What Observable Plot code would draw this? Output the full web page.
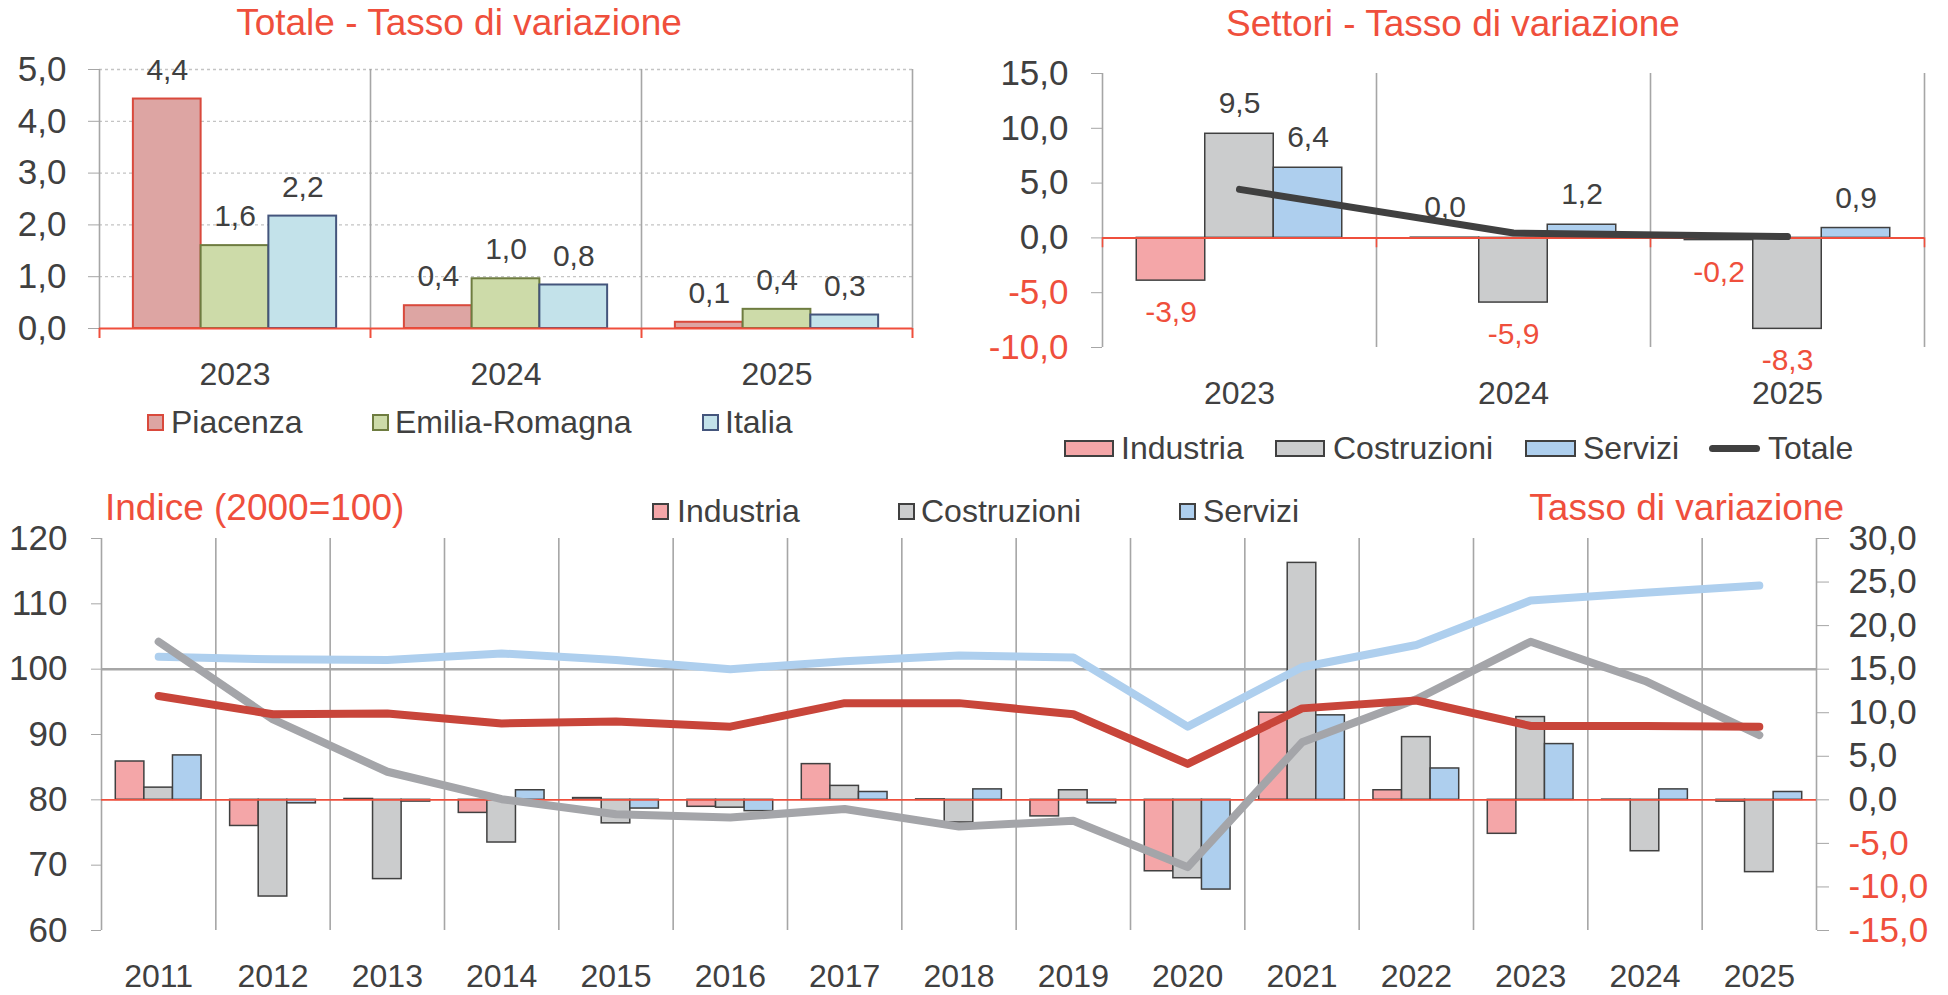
<!DOCTYPE html>
<html>
<head>
<meta charset="utf-8">
<script src="https://cdn.jsdelivr.net/npm/d3@7"></script>
<script src="https://cdn.jsdelivr.net/npm/@observablehq/plot@0.6"></script>
<style>
  body { margin: 0; background: #ffffff; }
  #root { position: relative; width: 1948px; height: 995px; overflow: hidden;
          font-family: "Liberation Sans", Arial, sans-serif; color: #404040; background: #fff; }
  #root svg { position: absolute; overflow: visible; }
  .title { position: absolute; color: #ef4f3c; font-size: 37px; line-height: 1; white-space: nowrap; }
  .legtxt { position: absolute; font-size: 32px; line-height: 1; white-space: nowrap; color: #404040; }
  .sw { position: absolute; box-sizing: border-box; }
</style>
</head>
<body>
<div id="root"></div>
<script>
// ---------------- DATA ----------------
// Top-left: Totale - Tasso di variazione
const periods = ["2023", "2024", "2025"];
const totSeries = ["Piacenza", "Emilia-Romagna", "Italia"];
const totPiacenza = [4.43, 0.44, 0.12];
const totEmilia = [1.6, 0.96, 0.37];
const totItalia = [2.17, 0.84, 0.26];
const totTicks = [0, 1, 2, 3, 4, 5];

// Top-right: Settori - Tasso di variazione
const sectors = ["Industria", "Costruzioni", "Servizi"];
const secIndustria = [-3.9, 0.02, -0.2];
const secCostruzioni = [9.5, -5.9, -8.3];
const secServizi = [6.4, 1.2, 0.9];
const secTotale = [4.43, 0.44, 0.12];
const secTicks = [-10, -5, 0, 5, 10, 15];

// Bottom: Indice (2000=100) and Tasso di variazione
const years = ["2011","2012","2013","2014","2015","2016","2017","2018","2019","2020","2021","2022","2023","2024","2025"];
const idxIndustria   = [95.9, 93.1, 93.2, 91.7, 92.0, 91.2, 94.8, 94.8, 93.1, 85.5, 94.0, 95.2, 91.3, 91.3, 91.2];
const idxCostruzioni = [104.2, 92.3, 84.3, 80.1, 77.8, 77.3, 78.6, 75.9, 76.8, 69.7, 88.8, 95.4, 104.2, 98.2, 89.9];
const idxServizi     = [101.9, 101.5, 101.4, 102.4, 101.4, 100.0, 101.2, 102.1, 101.8, 91.2, 100.3, 103.7, 110.5, 111.7, 112.8];
const rateIndustria   = [4.4, -3.0, 0.1, -1.5, 0.2, -0.8, 4.1, 0.05, -1.9, -8.2, 10.0, 1.1, -3.9, 0.02, -0.2];
const rateCostruzioni = [1.4, -11.1, -9.1, -4.9, -2.7, -0.9, 1.6, -2.6, 1.1, -9.0, 27.2, 7.2, 9.5, -5.9, -8.3];
const rateServizi     = [5.1, -0.4, -0.2, 1.1, -1.0, -1.3, 0.9, 1.2, -0.4, -10.3, 9.7, 3.6, 6.4, 1.2, 0.9];
const idxTicks = [60, 70, 80, 90, 100, 110, 120];
const rateTicks = [-15, -10, -5, 0, 5, 10, 15, 20, 25, 30];

// ---------------- STYLE ----------------
const RED = "#ef4f3c";
const TXT = "#404040";
const AXIS = "#a6a6a6";
const FONT = "Liberation Sans, Arial, sans-serif";
const fmt1 = v => v.toFixed(1).replace(".", ",").replace(/^-0,0$/, "0,0");
const root = document.getElementById("root");

// grouped-bar rows: category index i, series index s
function grouped(arrays, names) {
  const rows = [];
  arrays.forEach((arr, s) => arr.forEach((v, i) => rows.push({
    i, s, name: names[s], value: v,
    x1: i + 0.125 + s * 0.25, x2: i + 0.375 + s * 0.25, xc: i + 0.25 + s * 0.25
  })));
  return rows;
}
const range = n => d3.range(n + 1);
const centers = n => d3.range(n).map(i => i + 0.5);

function place(svg, left, top) {
  svg.style.left = left + "px";
  svg.style.top = top + "px";
  root.appendChild(svg);
}
function title(text, opts) {
  const d = document.createElement("div");
  d.className = "title";
  d.textContent = text;
  Object.assign(d.style, opts);
  root.appendChild(d);
}
function legendItem(x, w, h, cy, fill, stroke, tx, text, lineSwatch) {
  const s = document.createElement("div");
  s.className = "sw";
  s.style.left = x + "px";
  s.style.width = w + "px";
  s.style.top = (cy - h / 2) + "px";
  s.style.height = h + "px";
  s.style.background = fill;
  if (lineSwatch) {
    s.style.borderRadius = (h / 2) + "px";
  } else {
    s.style.border = "2px solid " + stroke;
  }
  root.appendChild(s);
  const t = document.createElement("div");
  t.className = "legtxt";
  t.style.left = tx + "px";
  t.style.top = (cy - 16) + "px";
  t.textContent = text;
  root.appendChild(t);
}

// ---------------- TOP-LEFT ----------------
{
  const rows = grouped([totPiacenza, totEmilia, totItalia], totSeries);
  const fills = ["#dda5a3", "#cddba9", "#c3e2ea"];
  const strokes = ["#d9493c", "#6e7c40", "#44557c"];
  const barMarks = totSeries.map((name, s) =>
    Plot.rectY(rows.filter(d => d.s === s), {x1: "x1", x2: "x2", y: "value", fill: fills[s], stroke: strokes[s], strokeWidth: 2}));
  const svg = Plot.plot({
    width: 930, height: 400,
    marginLeft: 99, marginRight: 18, marginTop: 69, marginBottom: 72,
    x: {domain: [0, 3]},
    y: {domain: [0, 5]},
    style: {fontFamily: FONT, background: "transparent"},
    marks: [
      Plot.ruleY(totTicks.filter(t => t > 0), {stroke: "#c4c4c4", strokeDasharray: "3,3", strokeWidth: 1.3}),
      Plot.ruleX(range(3), {y1: 0, y2: 5, stroke: AXIS, strokeWidth: 1.6}),
      Plot.axisY(totTicks, {anchor: "left", tickSize: 11, tickPadding: 22, stroke: AXIS, fill: TXT, fontSize: 35, tickFormat: fmt1, label: null}),
      ...barMarks,
      Plot.ruleY([0], {stroke: RED, strokeWidth: 2}),
      Plot.axisX(range(3), {anchor: "bottom", tickSize: 10, stroke: RED, strokeWidth: 2, fill: "none", tickFormat: () => "", label: null}),
      Plot.text(rows, {x: "xc", y: "value", text: d => fmt1(d.value), dy: -29, fill: TXT, fontSize: 30}),
      Plot.axisX(centers(3), {anchor: "bottom", tickSize: 0, tickPadding: 34, fill: TXT, fontSize: 32, tickFormat: v => periods[Math.floor(v)], label: null})
    ]
  });
  place(svg, 0, 0);
  title("Totale - Tasso di variazione", {left: "59px", width: "800px", textAlign: "center", top: "4px"});
  legendItem(147, 17, 17, 422, fills[0], strokes[0], 171, totSeries[0]);
  legendItem(372, 17, 17, 422, fills[1], strokes[1], 395, totSeries[1]);
  legendItem(702, 17, 17, 422, fills[2], strokes[2], 725, totSeries[2]);
}

// ---------------- TOP-RIGHT ----------------
{
  const rows = grouped([secIndustria, secCostruzioni, secServizi], sectors);
  const fills = ["#f4a6a8", "#cbcccd", "#aecfee"];
  const barMarks = sectors.map((name, s) =>
    Plot.rectY(rows.filter(d => d.s === s), {x1: "x1", x2: "x2", y: "value", fill: fills[s], stroke: TXT, strokeWidth: 1.5}));
  const totRows = secTotale.map((v, i) => ({x: i + 0.5, value: v}));
  const svg = Plot.plot({
    width: 988, height: 420,
    marginLeft: 142, marginRight: 24, marginTop: 73, marginBottom: 73,
    x: {domain: [0, 3]},
    y: {domain: [-10, 15]},
    style: {fontFamily: FONT, background: "transparent"},
    marks: [
      Plot.ruleX(range(3), {y1: -10, y2: 15, stroke: AXIS, strokeWidth: 1.6}),
      Plot.axisY(secTicks, {anchor: "left", tickSize: 11, stroke: AXIS, fill: "none", tickFormat: () => "", label: null}),
      Plot.axisY(secTicks.filter(t => t >= 0), {anchor: "left", tickSize: 0, tickPadding: 34, fill: TXT, fontSize: 35, tickFormat: fmt1, label: null}),
      Plot.axisY(secTicks.filter(t => t < 0), {anchor: "left", tickSize: 0, tickPadding: 34, fill: RED, fontSize: 35, tickFormat: fmt1, label: null}),
      ...barMarks,
      Plot.ruleY([0], {stroke: RED, strokeWidth: 2}),
      Plot.axisX(range(3), {anchor: "bottom", tickSize: 0, fill: "none", tickFormat: () => "", label: null}),
      Plot.ruleX(range(3), {y1: 0, y2: -0.9, stroke: RED, strokeWidth: 1.6}),
      Plot.line(totRows, {x: "x", y: "value", stroke: TXT, strokeWidth: 7, strokeLinecap: "round", strokeLinejoin: "round"}),
      Plot.text(rows.filter(d => d.value >= 0), {x: "xc", y: "value", text: d => fmt1(d.value), dy: -30, fill: TXT, fontSize: 30}),
      Plot.text(rows.filter(d => d.value < 0), {x: "xc", y: "value", text: d => fmt1(d.value), dy: 32, fill: RED, fontSize: 30}),
      Plot.axisX(centers(3), {anchor: "bottom", tickSize: 0, tickPadding: 34, fill: TXT, fontSize: 32, tickFormat: v => periods[Math.floor(v)], label: null})
    ]
  });
  place(svg, 960, 0);
  title("Settori - Tasso di variazione", {left: "1053px", width: "800px", textAlign: "center", top: "5px"});
  legendItem(1064, 50, 17, 448, fills[0], TXT, 1121, sectors[0]);
  legendItem(1275, 50, 17, 448, fills[1], TXT, 1333, sectors[1]);
  legendItem(1525, 51, 17, 448, fills[2], TXT, 1583, sectors[2]);
  legendItem(1709, 51, 7, 448, TXT, TXT, 1768, "Totale", true);
}

// ---------------- BOTTOM ----------------
{
  const toIdx = r => 80 + r * 60 / 45;   // right axis (rate) -> left axis (index)
  const toRate = v => (v - 80) * 45 / 60;
  const rows = grouped([rateIndustria, rateCostruzioni, rateServizi], sectors);
  const fills = ["#f4a6a8", "#cbcccd", "#aecfee"];
  const lineColors = ["#c8453a", "#a4a5a9", "#aecfee"];
  const barMarks = sectors.map((name, s) =>
    Plot.rect(rows.filter(d => d.s === s), {x1: "x1", x2: "x2", y1: () => toIdx(0), y2: d => toIdx(d.value), fill: fills[s], stroke: TXT, strokeWidth: 1.5}));
  const idxArrays = [idxIndustria, idxCostruzioni, idxServizi];
  const lineMarks = [2, 1, 0].map(s =>
    Plot.line(idxArrays[s].map((v, i) => ({x: i + 0.5, v})), {x: "x", y: "v", stroke: lineColors[s], strokeWidth: 8, strokeLinecap: "round", strokeLinejoin: "round"}));
  const svg = Plot.plot({
    width: 1948, height: 525,
    marginLeft: 101, marginRight: 132, marginTop: 68, marginBottom: 65,
    x: {domain: [0, years.length]},
    y: {domain: [60, 120]},
    style: {fontFamily: FONT, background: "transparent"},
    marks: [
      Plot.ruleX(range(years.length), {y1: 60, y2: 120, stroke: AXIS, strokeWidth: 1.6}),
      Plot.ruleY([100], {stroke: AXIS, strokeWidth: 2.5}),
      Plot.axisY(idxTicks, {anchor: "left", tickSize: 10, tickPadding: 24, stroke: AXIS, fill: TXT, fontSize: 35, tickFormat: d3.format("d"), label: null}),
      Plot.axisY(rateTicks.map(toIdx), {anchor: "right", tickSize: 12, stroke: AXIS, fill: "none", tickFormat: () => "", label: null}),
      Plot.axisY(rateTicks.filter(t => t >= 0).map(toIdx), {anchor: "right", tickSize: 0, tickPadding: 32, fill: TXT, fontSize: 35, tickFormat: v => fmt1(toRate(v)), label: null}),
      Plot.axisY(rateTicks.filter(t => t < 0).map(toIdx), {anchor: "right", tickSize: 0, tickPadding: 32, fill: RED, fontSize: 35, tickFormat: v => fmt1(toRate(v)), label: null}),
      ...barMarks,
      Plot.ruleY([toIdx(0)], {stroke: RED, strokeWidth: 1.6}),
      ...lineMarks,
      Plot.axisX(centers(years.length), {anchor: "bottom", tickSize: 0, tickPadding: 34, fill: TXT, fontSize: 32, tickFormat: v => years[Math.floor(v)], label: null})
    ]
  });
  place(svg, 0, 470);
  title("Indice (2000=100)", {left: "105px", top: "489px"});
  title("Tasso di variazione", {left: "1344px", width: "500px", textAlign: "right", top: "489px"});
  legendItem(652, 17, 17, 511, fills[0], TXT, 677, sectors[0]);
  legendItem(898, 17, 17, 511, fills[1], TXT, 921, sectors[1]);
  legendItem(1179, 17, 17, 511, fills[2], TXT, 1203, sectors[2]);
}
</script>
</body>
</html>
